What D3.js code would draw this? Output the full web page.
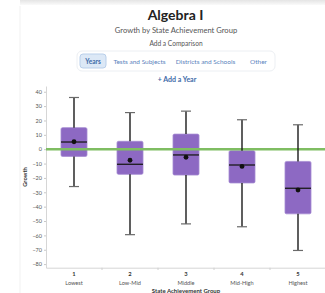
<!DOCTYPE html>
<html>
<head>
<meta charset="utf-8">
<script src="https://cdn.jsdelivr.net/npm/d3@7"></script>
<style>
  body { margin: 0; background: #fff; font-family: Lato, "Open Sans", sans-serif; }
  svg { display: block; }
</style>
</head>
<body>
<div id="chart"></div>
<script>
// state achievement groups
const groups = ['1', '2', '3', '4', '5'];
const groupNames = ['Lowest', 'Low-Mid', 'Middle', 'Mid-High', 'Highest'];
const whiskerLow = [-26, -59.5, -52, -54, -70.5];
const q1 = [-5, -17.5, -18, -23.5, -45];
const median = [5, -10.5, -4, -11, -27.2];
const q3 = [15, 5.5, 10.5, -1, -8.5];
const whiskerHigh = [36, 25.5, 26.5, 20.5, 17];
const mean = [5.2, -7.7, -5.6, -12, -28.4];
const yTicks = [40, 30, 20, 10, 0, -10, -20, -30, -40, -50, -60, -70, -80];
const tabs = ['Years', 'Tests and Subjects', 'Districts and Schools', 'Other'];

const width = 325;
const height = 293;
const svg = d3.select('#chart').append('svg')
    .attr('width', width)
    .attr('height', height);

// card shadow at the top
const grad = svg.append('defs').append('linearGradient')
    .attr('id', 'shade').attr('x1', 0).attr('x2', 0).attr('y1', 0).attr('y2', 1);
grad.append('stop').attr('offset', 0).attr('stop-color', '#e4e4e4');
grad.append('stop').attr('offset', 1).attr('stop-color', '#fafafa');
svg.append('rect').attr('x', 20).attr('y', 0).attr('width', 305).attr('height', 5).attr('fill', 'url(#shade)');
svg.append('line').attr('x1', 20).attr('x2', 20).attr('y1', 6).attr('y2', height)
    .attr('stroke', '#f1f1f1');

// header
svg.append('text').attr('x', 175.5).attr('y', 19.7).attr('text-anchor', 'middle')
    .attr('font-size', 14).attr('font-weight', 700).attr('fill', '#222').text('Algebra I');
svg.append('text').attr('x', 176).attr('y', 33).attr('text-anchor', 'middle')
    .attr('font-size', 7.6).attr('fill', '#555').text('Growth by State Achievement Group');
svg.append('text').attr('x', 176).attr('y', 46).attr('text-anchor', 'middle')
    .attr('font-size', 6.6).attr('fill', '#555').text('Add a Comparison');

svg.append('rect').attr('x', 77).attr('y', 51).attr('width', 198).attr('height', 20).attr('rx', 5)
    .attr('fill', '#fff').attr('stroke', '#eceff3');
svg.append('rect').attr('x', 80).attr('y', 54).attr('width', 26).attr('height', 14).attr('rx', 3)
    .attr('fill', '#dce8f6').attr('stroke', '#b9cfea');
const tabX = [93, 139.5, 205.5, 258.5];
svg.selectAll('.tab').data(tabs).enter().append('text')
    .attr('class', 'tab')
    .attr('x', (d, i) => tabX[i]).attr('y', 63.5).attr('text-anchor', 'middle')
    .attr('font-size', 6.5)
    .attr('font-weight', (d, i) => (i === 0 ? 700 : 400))
    .attr('fill', (d, i) => (i === 0 ? '#3d6aa8' : '#5b83bd'))
    .text((d) => d);
svg.append('text').attr('x', 177).attr('y', 82).attr('text-anchor', 'middle')
    .attr('font-size', 7).attr('font-weight', 700).attr('fill', '#3d6aa8').text('+ Add a Year');

// scales
const x = d3.scaleBand().domain(groups).range([46, 326]);
const y = d3.scaleLinear().domain([-82.5, 44]).range([267.7, 86]);
const boxW = 26;

// y axis
const yAxis = svg.append('g').attr('transform', 'translate(46,0)')
    .call(d3.axisLeft(y).tickValues(yTicks).tickSize(2).tickSizeOuter(0).tickPadding(2));
yAxis.select('.domain').attr('stroke', '#d6d6d6');
yAxis.selectAll('.tick line').attr('stroke', '#c8c8c8');
yAxis.selectAll('.tick text').attr('font-size', 5.5).attr('fill', '#555').attr('font-family', 'Lato, sans-serif');

svg.append('text').attr('transform', 'translate(27,177) rotate(-90)')
    .attr('text-anchor', 'middle').attr('font-size', 5.8).attr('font-weight', 700).attr('fill', '#333')
    .text('Growth');

// x axis
const xAxis = svg.append('g').attr('transform', 'translate(0,267.7)')
    .call(d3.axisBottom(x).tickSize(0).tickPadding(6).tickFormat(''));
xAxis.select('.domain').attr('stroke', '#d6d6d6');
const bounds = x.domain().map((d) => x(d)).slice(1);
svg.selectAll('.xsep').data(bounds).enter().append('line')
    .attr('x1', (d) => d).attr('x2', (d) => d)
    .attr('y1', 267.7).attr('y2', 270)
    .attr('stroke', '#d0d0d0');
svg.selectAll('.xnum').data(groups).enter().append('text')
    .attr('x', (d) => x(d) + x.bandwidth() / 2).attr('y', 276)
    .attr('text-anchor', 'middle').attr('font-size', 5.8).attr('font-weight', 700).attr('fill', '#333')
    .text((d) => d);
svg.selectAll('.xname').data(groupNames).enter().append('text')
    .attr('x', (d, i) => x(groups[i]) + x.bandwidth() / 2).attr('y', 285)
    .attr('text-anchor', 'middle').attr('font-size', 5.6).attr('fill', '#555')
    .text((d) => d);
svg.append('text').attr('x', 186).attr('y', 293).attr('text-anchor', 'middle')
    .attr('font-size', 6).attr('font-weight', 700).attr('fill', '#333').text('State Achievement Group');

// boxes
const data = groups.map((g, i) => ({
    g, lo: whiskerLow[i], q1: q1[i], med: median[i], q3: q3[i], hi: whiskerHigh[i], mean: mean[i],
}));
const cx = (d) => x(d.g) + x.bandwidth() / 2;

svg.selectAll('.box').data(data).enter().append('rect')
    .attr('class', 'box')
    .attr('x', (d) => cx(d) - boxW / 2)
    .attr('y', (d) => y(d.q3))
    .attr('width', boxW)
    .attr('height', (d) => y(d.q1) - y(d.q3))
    .attr('rx', 1.5)
    .attr('fill', '#8d69c3')
    .attr('stroke', '#a58ad2')
    .attr('stroke-width', 0.8);

// zero reference line
svg.append('line').attr('x1', 46).attr('x2', 325).attr('y1', y(0)).attr('y2', y(0))
    .attr('stroke', '#7fbd62').attr('stroke-width', 2.6);

const whiskers = svg.selectAll('.whisker').data(data).enter().append('g');
whiskers.append('line')
    .attr('x1', cx).attr('x2', cx)
    .attr('y1', (d) => y(d.hi)).attr('y2', (d) => y(d.q3))
    .attr('stroke', '#1a1a1a').attr('stroke-width', 1.4);
whiskers.append('line')
    .attr('x1', cx).attr('x2', cx)
    .attr('y1', (d) => y(d.q1)).attr('y2', (d) => y(d.lo))
    .attr('stroke', '#1a1a1a').attr('stroke-width', 1.4);
whiskers.append('line')
    .attr('x1', (d) => cx(d) - 5).attr('x2', (d) => cx(d) + 5)
    .attr('y1', (d) => y(d.hi)).attr('y2', (d) => y(d.hi))
    .attr('stroke', '#6a6a6a').attr('stroke-width', 1.2);
whiskers.append('line')
    .attr('x1', (d) => cx(d) - 5).attr('x2', (d) => cx(d) + 5)
    .attr('y1', (d) => y(d.lo)).attr('y2', (d) => y(d.lo))
    .attr('stroke', '#6a6a6a').attr('stroke-width', 1.2);
whiskers.append('line')
    .attr('x1', (d) => cx(d) - boxW / 2).attr('x2', (d) => cx(d) + boxW / 2)
    .attr('y1', (d) => y(d.med)).attr('y2', (d) => y(d.med))
    .attr('stroke', '#1a1a1a').attr('stroke-width', 1.3);
whiskers.append('circle')
    .attr('cx', cx).attr('cy', (d) => y(d.mean)).attr('r', 2.4)
    .attr('fill', '#111');
</script>
</body>
</html>
